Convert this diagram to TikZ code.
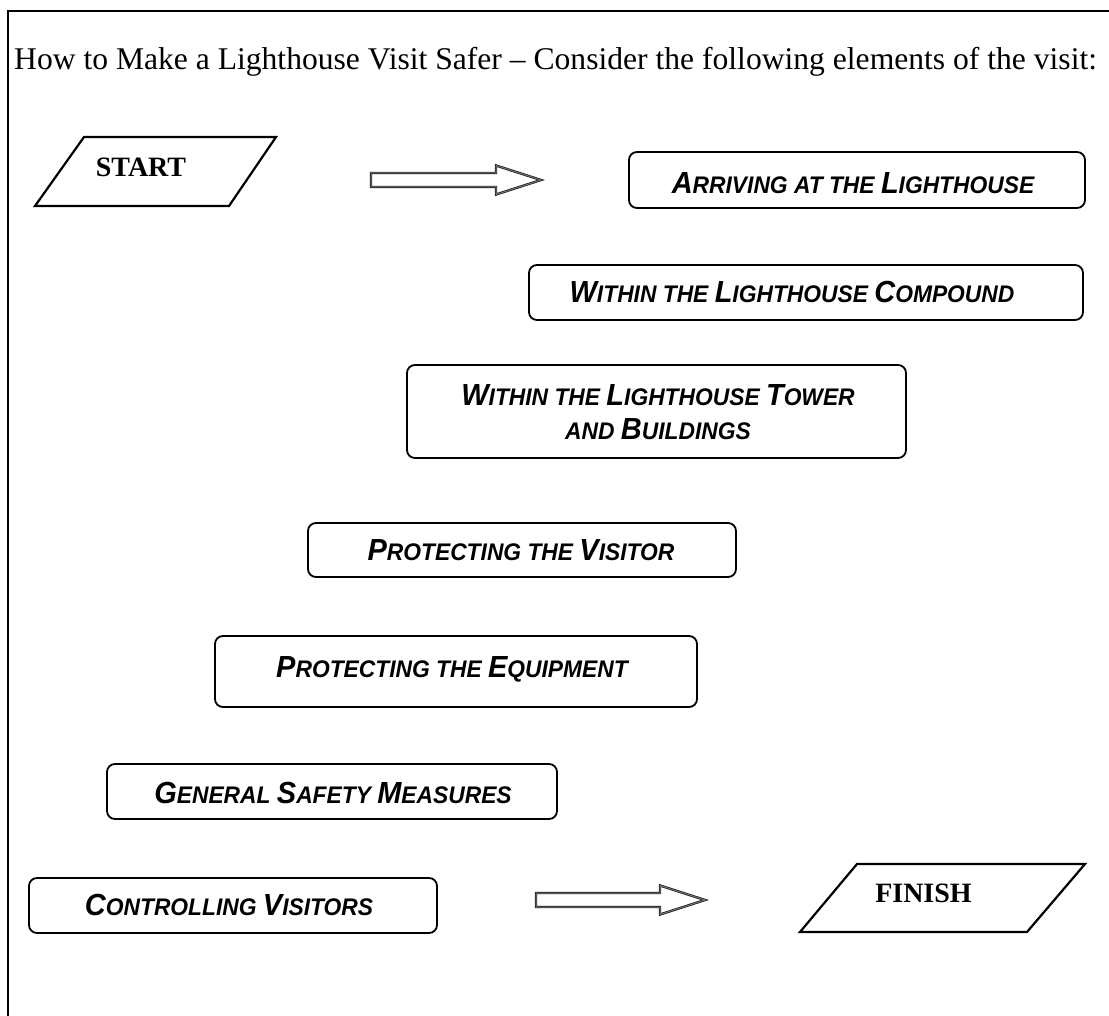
\documentclass[tikz,border=0pt]{standalone}
\usepackage{fontspec}
\setmainfont{Liberation Serif}
\newfontfamily\boxfont[FakeStretch=0.95]{Liberation Sans}
% large initial capital followed by smaller capitals
\newcommand\capsm[2]{{\fontsize{30.5}{33}\selectfont #1}{\fontsize{24}{27}\selectfont #2}}
\begin{document}
\begin{tikzpicture}[x=1pt,y=-1pt]
\tikzset{
  stagebox/.style={draw, line width=1.8pt, rounded corners=8pt, inner sep=0pt},
  stagelabel/.style={anchor=base, inner sep=0pt, font=\boxfont\bfseries\itshape},
  termshape/.style={draw, line width=2.2pt, line join=miter},
  termlabel/.style={anchor=base, inner sep=0pt, font=\fontsize{28}{30}\selectfont\bfseries},
  blockarrow/.style={draw=black!90, double=black!55, double distance=1pt, line width=0.7pt}
}
\useasboundingbox (0,0) rectangle (1109,1016);
% page frame (open on the right and bottom)
\draw[line width=1.8pt] (8,1016) -- (8,11) -- (1109,11);

% heading
\node[anchor=base west, inner sep=0pt, font=\fontsize{31.6}{35}\selectfont] (title) at (14,70)
  {How to Make a Lighthouse Visit Safer -- Consider the following elements of the visit:};

% start terminal
\draw[termshape] (84,137) -- (276,137) -- (229,206) -- (35,206) -- cycle;
\node[termlabel] (start) at (141,177) {START};

% block arrow after start
\draw[blockarrow] (371,173) -- (496,173) -- (496,165.5) -- (541,180) -- (496,194.5) -- (496,187) -- (371,187) -- cycle;

% stages
\node[stagebox, minimum width=456pt, minimum height=56pt] (arrive) at (857,180) {};
\node[stagelabel] (arrivetxt) at (853,194) {\capsm{A}{RRIVING AT THE }\capsm{L}{IGHTHOUSE}};

\node[stagebox, minimum width=554pt, minimum height=55pt] (compound) at (806,292.5) {};
\node[stagelabel] (compoundtxt) at (792,303) {\capsm{W}{ITHIN THE }\capsm{L}{IGHTHOUSE }\capsm{C}{OMPOUND}};

\node[stagebox, minimum width=499pt, minimum height=93pt] (tower) at (656.5,411.5) {};
\node[stagelabel] (towertxtA) at (658,406) {\capsm{W}{ITHIN THE }\capsm{L}{IGHTHOUSE }\capsm{T}{OWER}};
\node[stagelabel] (towertxtB) at (658,439) {\capsm{}{AND }\capsm{B}{UILDINGS}};

\node[stagebox, minimum width=428pt, minimum height=54pt] (visitor) at (522,550) {};
\node[stagelabel] (visitortxt) at (521,560) {\capsm{P}{ROTECTING THE }\capsm{V}{ISITOR}};

\node[stagebox, minimum width=482pt, minimum height=71pt] (equip) at (456,671.5) {};
\node[stagelabel] (equiptxt) at (452,677) {\capsm{P}{ROTECTING THE }\capsm{E}{QUIPMENT}};

\node[stagebox, minimum width=450pt, minimum height=55pt] (general) at (332,791.5) {};
\node[stagelabel] (generaltxt) at (333,803) {\capsm{G}{ENERAL }\capsm{S}{AFETY }\capsm{M}{EASURES}};

\node[stagebox, minimum width=408pt, minimum height=55pt] (control) at (233,905.5) {};
\node[stagelabel] (controltxt) at (229,915) {\capsm{C}{ONTROLLING }\capsm{V}{ISITORS}};

% block arrow before finish
\draw[blockarrow] (536,893) -- (660,893) -- (660,885.5) -- (705,900) -- (660,914.5) -- (660,907) -- (536,907) -- cycle;

% finish terminal
\draw[termshape] (857,864) -- (1085,864) -- (1027,932) -- (800,932) -- cycle;
\node[termlabel] (finish) at (923.5,902) {FINISH};
\end{tikzpicture}
\end{document}
